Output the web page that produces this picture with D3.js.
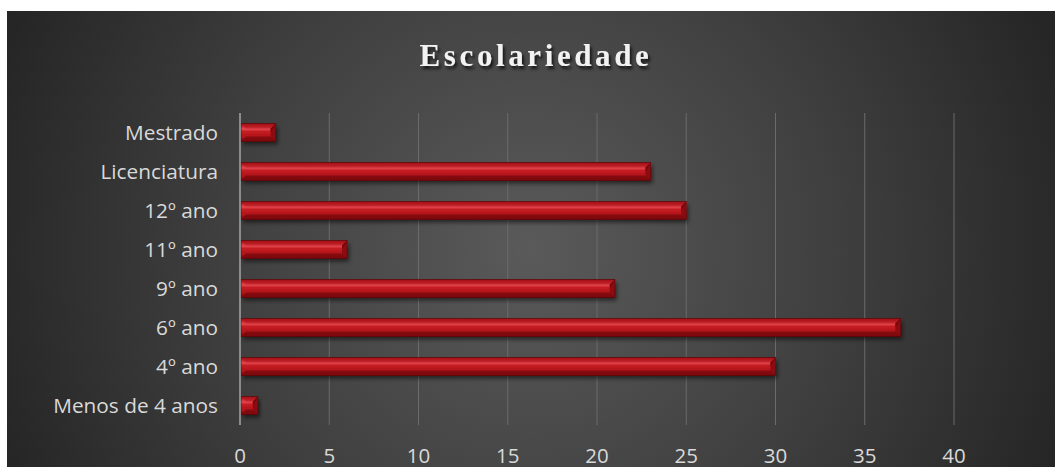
<!DOCTYPE html>
<html><head><meta charset="utf-8">
<script src="https://cdn.jsdelivr.net/npm/d3@7/dist/d3.min.js"></script>
<style>html,body{margin:0;padding:0;background:#fff;overflow:hidden}</style>
</head><body><svg id="c" width="1055" height="467"></svg>
<script>
const categories = ["Menos de 4 anos","4º ano","6º ano","9º ano","11º ano","12º ano","Licenciatura","Mestrado"];
const values = [1,30,37,21,6,25,23,2];
const xTicks = [0,5,10,15,20,25,30,35,40];
const title = "Escolariedade";

const svg = d3.select("#c");
const defs = svg.append("defs");
const rg = defs.append("radialGradient").attr("id","bg").attr("gradientUnits","userSpaceOnUse")
  .attr("cx",530).attr("cy",250).attr("r",560);
rg.append("stop").attr("offset","0").attr("stop-color","#5a5a5a");
rg.append("stop").attr("offset","0.55").attr("stop-color","#3f3f3f");
rg.append("stop").attr("offset","1").attr("stop-color","#262626");

const bg = defs.append("linearGradient").attr("id","bar").attr("x1",0).attr("y1",0).attr("x2",0).attr("y2",1);
[["0","#9e1015"],["0.15","#c8242a"],["0.3","#e4484e"],["0.45","#c41c22"],["0.75","#b0151b"],["1","#7c0a0e"]]
  .forEach(s=>bg.append("stop").attr("offset",s[0]).attr("stop-color",s[1]));

const f = defs.append("filter").attr("id","sh").attr("x","-10%").attr("y","-50%").attr("width","130%").attr("height","220%");
f.append("feDropShadow").attr("dx",2).attr("dy",3).attr("stdDeviation",2).attr("flood-color","#000").attr("flood-opacity",0.55);
const tf = defs.append("filter").attr("id","tsh").attr("x","-10%").attr("y","-50%").attr("width","120%").attr("height","200%");
tf.append("feDropShadow").attr("dx",2).attr("dy",3).attr("stdDeviation",1.5).attr("flood-color","#000").attr("flood-opacity",0.7);

svg.append("rect").attr("x",7).attr("y",11).attr("width",1065).attr("height",470).attr("fill","url(#bg)");

svg.append("text").attr("x",536).attr("y",66).attr("text-anchor","middle")
  .attr("font-family","'Liberation Serif', serif").attr("font-weight","bold").attr("font-size",31)
  .attr("letter-spacing",3.6).attr("fill","#f2f2f2").attr("filter","url(#tsh)").text(title);

const x = d3.scaleLinear().domain([0,40]).range([240,954]);
const y = d3.scaleBand().domain(categories.slice().reverse()).range([113,425]).paddingInner(0.54).paddingOuter(0.27);

svg.append("g").selectAll("line").data(xTicks.filter(d=>d>0)).join("line")
  .attr("x1",d=>x(d)).attr("x2",d=>x(d)).attr("y1",113).attr("y2",425)
  .attr("stroke","#6b6b6b").attr("stroke-width",1);

const fs = "'Open Sans', 'Lato', sans-serif";
svg.append("g").selectAll("text").data(xTicks).join("text")
  .attr("x",d=>x(d)).attr("y",462.5).attr("text-anchor","middle")
  .attr("font-family",fs).attr("font-size",20.5).attr("fill","#d9d9d9").text(d=>d);

svg.append("g").selectAll("text").data(categories).join("text")
  .attr("x",218).attr("y",d=>y(d)+y.bandwidth()/2).attr("dy","0.36em").attr("text-anchor","end")
  .attr("font-family",fs).attr("font-size",20.8).attr("fill","#d9d9d9").text(d=>d);

const bars = svg.append("g").selectAll("g").data(categories.map((c,i)=>({c,v:values[i]}))).join("g")
  .attr("transform",d=>`translate(${x(0)+1},${y(d.c)})`);
const h = y.bandwidth();
const b = 5;
bars.append("rect").attr("width",d=>x(d.v)-x(0)-1).attr("height",h).attr("fill","url(#bar)").attr("filter","url(#sh)");
bars.append("polygon").attr("points",d=>{const w=x(d.v)-x(0)-1;const bb=Math.min(b,w/2);return `${w},0 ${w},${h} ${w-bb},${h-bb} ${w-bb},${bb}`;})
  .attr("fill","#8c0c11");
bars.append("polygon").attr("points",d=>{const w=x(d.v)-x(0)-1;const bb=Math.min(b,w/2);return `${w},0 ${w-bb},${bb} ${w-bb},${h/2}`;})
  .attr("fill","#6e070b");
bars.append("polygon").attr("points",d=>{const w=x(d.v)-x(0)-1;const bb=Math.min(b,w/2);return `0,${h} ${w},${h} ${w-bb},${h-bb} ${bb},${h-bb}`;})
  .attr("fill","#7a090d").attr("opacity",0.8);
bars.append("polygon").attr("points",d=>{const w=x(d.v)-x(0)-1;const bb=Math.min(b,w/2);return `0,0 ${w},0 ${w-bb},${bb} ${bb},${bb}`;})
  .attr("fill","#a51218").attr("opacity",0.45);
bars.append("rect").attr("width",d=>x(d.v)-x(0)-1).attr("height",h).attr("fill","none").attr("stroke","#5a0508").attr("stroke-width",0.8).attr("opacity",0.8);

svg.append("line").attr("x1",x(0)).attr("x2",x(0)).attr("y1",113).attr("y2",425)
  .attr("stroke","#a6a6a6").attr("stroke-width",1.5);
</script></body></html>
